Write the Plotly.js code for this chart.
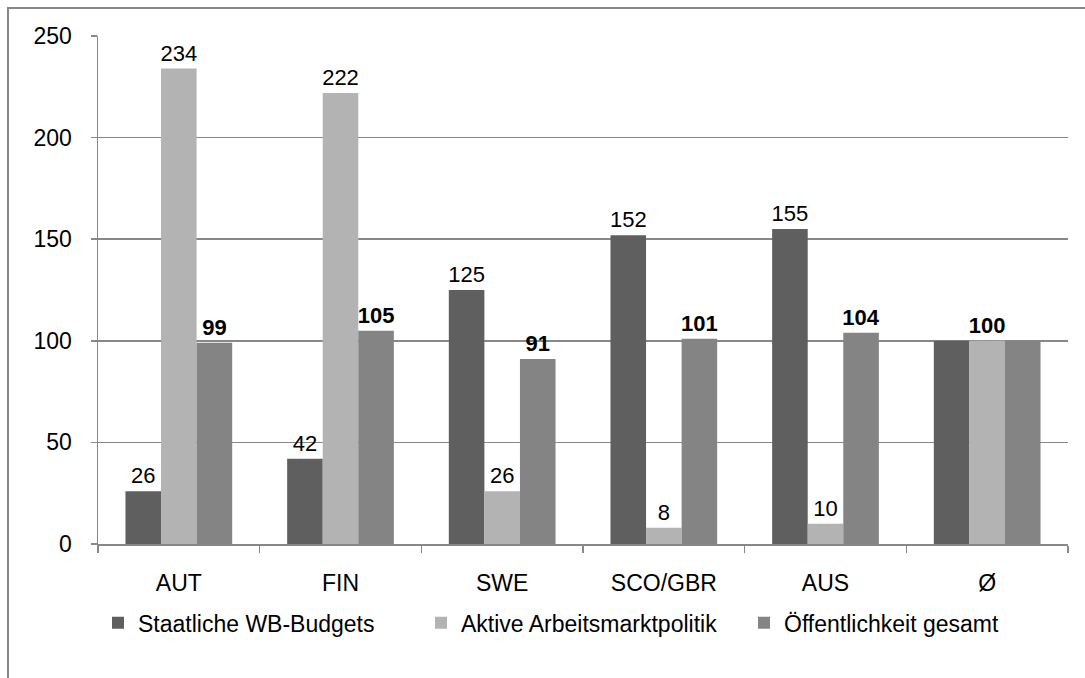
<!DOCTYPE html>
<html>
<head>
<meta charset="utf-8">
<script src="https://cdn.plot.ly/plotly-3.0.1.min.js"></script>
<style>
html,body{margin:0;padding:0;background:#fff;}
#chart{width:1085px;height:678px;}
</style>
</head>
<body>
<div id="chart"></div>
<script>
const categories = ['AUT', 'FIN', 'SWE', 'SCO/GBR', 'AUS', 'Ø'];
const seriesNames = ['Staatliche WB-Budgets', 'Aktive Arbeitsmarktpolitik', 'Öffentlichkeit gesamt'];
const staatlicheWB = [26, 42, 125, 152, 155, 100];
const aktiveAMP = [234, 222, 26, 8, 10, 100];
const oeffentlichkeit = [99, 105, 91, 101, 104, 100];
// which labels are shown (Ø only shows the middle label)
const showStaatlich = [true, true, true, true, true, false];
const showAktive = [true, true, true, true, true, true];
const showOeff = [true, true, true, true, true, false];
const boldStaatlich = false, boldAktive = [false, false, false, false, false, true], boldOeff = true;

const colors = ['#5f5f5f', '#b3b3b3', '#848484'];
const fontFam = 'Liberation Sans, Arial, sans-serif';

function labels(vals, show, bold) {
  return vals.map((v, i) => {
    if (!show[i]) return '';
    const b = Array.isArray(bold) ? bold[i] : bold;
    return b ? '<b>' + v + '</b>' : String(v);
  });
}

const seriesVals = [staatlicheWB, aktiveAMP, oeffentlichkeit];
const seriesText = [
  labels(staatlicheWB, showStaatlich, boldStaatlich),
  labels(aktiveAMP, showAktive, boldAktive),
  labels(oeffentlichkeit, showOeff, boldOeff)
];

const traces = seriesVals.map((vals, k) => ({
  type: 'bar',
  name: seriesNames[k],
  x: categories,
  y: vals,
  text: seriesText[k],
  textposition: 'outside',
  textfont: {family: fontFam, size: 22, color: '#000'},
  constraintext: 'none',
  cliponaxis: false,
  marker: {color: colors[k], line: {width: 0}},
  hoverinfo: 'x+y'
}));

const layout = {
  width: 1085, height: 678,
  margin: {l: 98, r: 17, t: 36, b: 134},
  paper_bgcolor: '#fff',
  plot_bgcolor: '#fff',
  barmode: 'group',
  bargap: 0.34,
  bargroupgap: 0,
  font: {family: fontFam, size: 22, color: '#000'},
  showlegend: true,
  legend: {
    orientation: 'h',
    x: 0.0, xanchor: 'left',
    y: -0.155, yanchor: 'middle',
    bgcolor: 'rgba(0,0,0,0)',
    font: {family: fontFam, size: 23, color: '#000'},
    entrywidth: 278, entrywidthmode: 'pixels',
    itemwidth: 30,
    traceorder: 'normal'
  },
  xaxis: {
    type: 'category',
    showline: true, linecolor: '#888', linewidth: 1.5,
    ticks: 'outside', ticklen: 7, tickcolor: '#888', tickwidth: 1.5,
    tickson: 'boundaries',
    tickangle: 0,
    tickfont: {family: fontFam, size: 23, color: '#000'},
    ticklabelstandoff: 18,
    showgrid: false, zeroline: false
  },
  yaxis: {
    range: [0, 250],
    dtick: 50,
    showline: true, linecolor: '#888', linewidth: 1.5,
    ticks: 'outside', ticklen: 6, tickcolor: '#888', tickwidth: 1.5,
    tickfont: {family: fontFam, size: 23, color: '#000'},
    ticklabelstandoff: 14,
    showgrid: true, gridcolor: '#888', gridwidth: 1.5,
    zeroline: false
  },
  shapes: [{
    type: 'rect', xref: 'paper', yref: 'paper',
    x0: -0.0928, x1: 1.05, y0: -0.3, y1: 1.0551,
    line: {color: '#888', width: 2}, fillcolor: 'rgba(0,0,0,0)', layer: 'below'
  }]
};

Plotly.newPlot('chart', traces, layout, {displayModeBar: false, staticPlot: true});
</script>
</body>
</html>
